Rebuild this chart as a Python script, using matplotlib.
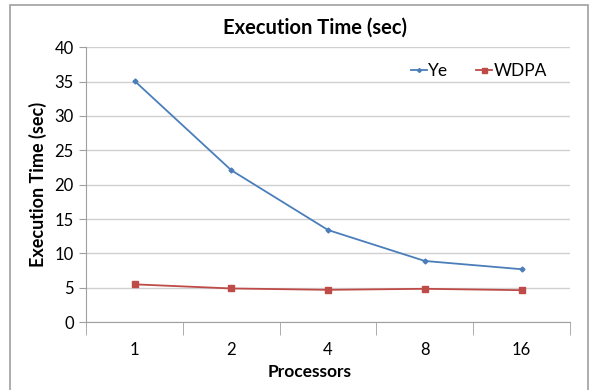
import matplotlib
matplotlib.use('Agg')
import numpy as np
import matplotlib.pyplot as plt
from matplotlib.patches import Rectangle

processors = ['1', '2', '4', '8', '16']
ye = [35.1, 22.1, 13.4, 8.9, 7.7]
wdpa = [5.5, 4.9, 4.7, 4.85, 4.65]

plt.rcParams['font.family'] = ['Lato', 'DejaVu Sans']

fig = plt.figure(figsize=(5.9, 3.9), dpi=100)
ax = fig.add_axes([0.146, 0.174, 0.82, 0.705])

x = np.arange(len(processors))
ax.plot(x, ye, color='#4a7ebb', lw=1.3, marker='D', ms=2.5, label='Ye')
ax.plot(x, wdpa, color='#be4b48', lw=1.3, marker='s', ms=4.5, label='WDPA')

ax.set_xlim(-0.5, len(processors) - 0.5)
ax.set_ylim(0, 40)
ax.set_yticks(range(0, 41, 5))
ax.set_xticks(x)
ax.set_xticklabels(processors)
ax.set_xticks(np.arange(-0.5, len(processors), 1), minor=True)
ax.tick_params(axis='x', which='major', length=0, pad=14, labelsize=12)
ax.tick_params(axis='x', which='minor', length=9, color='#a0a0a0', direction='out')
ax.tick_params(axis='y', length=5, color='#a0a0a0', labelsize=12, pad=4)
ax.grid(axis='y', color='#d0d0d0', lw=1)
ax.set_axisbelow(True)
for s in ['top', 'right']:
    ax.spines[s].set_visible(False)
ax.spines['left'].set_color('#a0a0a0')
ax.spines['bottom'].set_color('#a0a0a0')

fig.text(315 / 590, 1 - 28 / 390, 'Execution Time (sec)', fontsize=14.5,
         fontweight='bold', ha='center', va='center')
fig.text(310 / 590, 1 - 372 / 390, 'Processors', fontsize=12.5,
         fontweight='bold', ha='center', va='center')
ax.set_ylabel('Execution Time (sec)', fontsize=13, fontweight='bold', labelpad=5)

ax.legend(loc='upper right', ncol=2, frameon=False, fontsize=12.5,
          handlelength=0.9, handletextpad=0.1, columnspacing=1.6,
          markerscale=0.8, bbox_to_anchor=(0.985, 1.0))

fig.patches.append(Rectangle((10 / 590, -0.05), 578 / 590, 1 - 5 / 390 + 0.05,
                             transform=fig.transFigure, fill=False,
                             edgecolor='#a0a0a0', lw=1.2))

fig.savefig('out.png', dpi=100)
